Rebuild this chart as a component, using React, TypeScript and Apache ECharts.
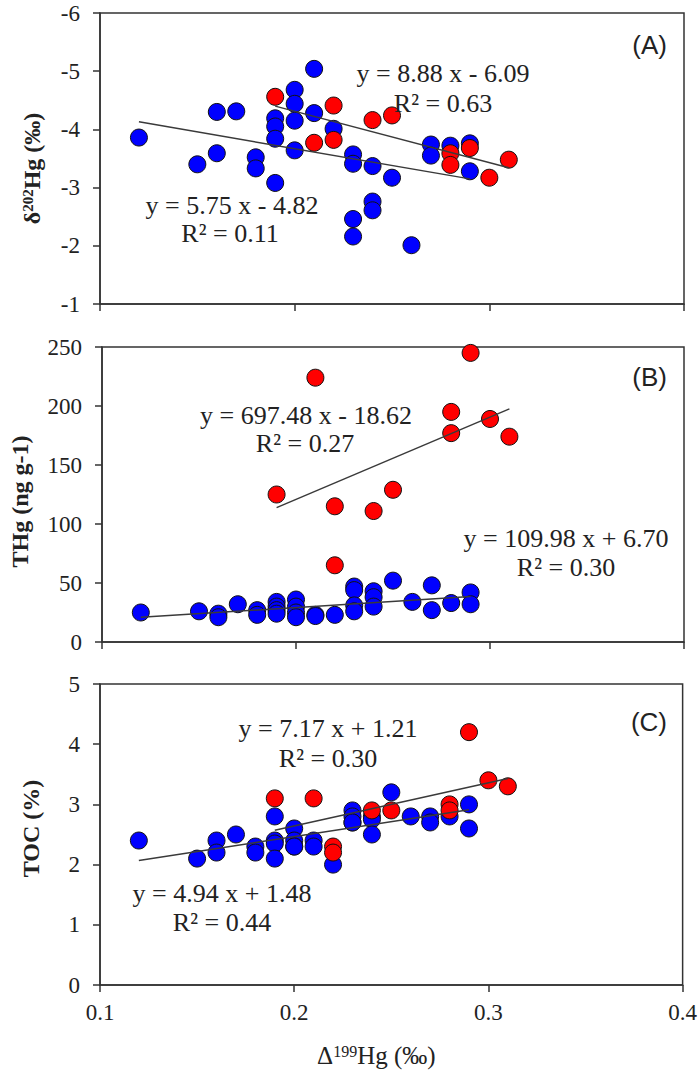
import React, { useEffect, useRef } from 'react';
import * as echarts from 'echarts';

// ---------- data ----------
const xBlue = [0.12, 0.15, 0.16, 0.16, 0.17, 0.18, 0.18, 0.19, 0.19, 0.19, 0.19, 0.2, 0.2, 0.2, 0.2, 0.21, 0.21, 0.22, 0.23, 0.23, 0.23, 0.23, 0.24, 0.24, 0.24, 0.25, 0.26, 0.27, 0.27, 0.28, 0.29, 0.29];
const aBlue = [-3.86, -3.4, -4.3, -3.59, -4.31, -3.52, -3.33, -4.19, -4.05, -3.84, -3.08, -4.68, -4.44, -4.15, -3.64, -5.04, -4.28, -4.01, -3.57, -3.41, -2.46, -2.16, -3.37, -2.76, -2.61, -3.17, -2.01, -3.74, -3.55, -3.72, -3.76, -3.28];
const bBlue = [25, 26, 24, 21, 32, 27, 23, 34, 30, 27, 24, 36, 30, 25, 21, 23, 22, 23, 47, 44, 31, 26, 43, 38, 30, 52, 34, 48, 27, 33, 42, 32];
const cBlue = [2.4, 2.1, 2.4, 2.2, 2.5, 2.3, 2.2, 2.8, 2.4, 2.35, 2.1, 2.6, 2.4, 2.3, 2.3, 2.4, 2.3, 2.0, 2.9, 2.8, 2.7, 2.7, 2.8, 2.75, 2.5, 3.2, 2.8, 2.8, 2.7, 2.8, 3.0, 2.6];

const xRed = [0.19, 0.21, 0.22, 0.22, 0.24, 0.25, 0.28, 0.28, 0.29, 0.3, 0.31];
const aRed = [-4.56, -3.77, -4.41, -3.82, -4.16, -4.24, -3.59, -3.39, -3.68, -3.17, -3.48];
const bRed = [125, 224, 115, 65, 111, 129, 195, 177, 245, 189, 174];
const cRed = [3.1, 3.1, 2.3, 2.2, 2.9, 2.9, 3.0, 2.9, 4.2, 3.4, 3.3];

// trend line end points
const fitXBlue = [0.12, 0.29];
const fitXRed = [0.19, 0.31];
const aBlueFit = [-4.13, -3.15];
const aRedFit = [-4.4, -3.34];
const bBlueFit = [20.9, 38.6];
const bRedFit = [113.9, 197.6];
const cBlueFit = [2.07, 2.91];
const cRedFit = [2.57, 3.43];

const xTicks = [0.1, 0.2, 0.3, 0.4];
const aTicks = [-6, -5, -4, -3, -2, -1];
const bTicks = [0, 50, 100, 150, 200, 250];
const cTicks = [0, 1, 2, 3, 4, 5];

const eqA = ['y = 8.88 x - 6.09', 'R² = 0.63', 'y = 5.75 x - 4.82', 'R² = 0.11'];
const eqB = ['y = 697.48 x - 18.62', 'R² = 0.27', 'y = 109.98 x + 6.70', 'R² = 0.30'];
const eqC = ['y = 7.17 x + 1.21', 'R² = 0.30', 'y = 4.94 x + 1.48', 'R² = 0.44'];
const panelLabels = ['(A)', '(B)', '(C)'];

const SERIF = 'Liberation Serif, Times New Roman, serif';
const SANS = 'Liberation Sans, Arial, sans-serif';
const INK = '#222';
const AXIS = '#333';

export default function App() {
  const ref = useRef<HTMLDivElement>(null);
  useEffect(() => {
    const chart = echarts.init(ref.current!, null, { renderer: 'svg' });
    const zip = (xs: number[], ys: number[]) => xs.map((x, i) => [x, ys[i]]);

    const grids = [
      { left: 100, top: 13, width: 584, height: 291 },
      { left: 100, top: 347, width: 584, height: 295 },
      { left: 100, top: 684, width: 584, height: 301 },
    ].map((g) => ({ ...g, show: true, borderColor: AXIS, borderWidth: 1.5, backgroundColor: 'transparent' }));

    const xAxes = [0, 1, 2].map((i) => ({
      type: 'value',
      gridIndex: i,
      min: xTicks[0],
      max: xTicks[xTicks.length - 1],
      interval: 0.1,
      axisLine: { lineStyle: { color: AXIS, width: 1.5 } },
      axisTick: { show: true, length: 7, lineStyle: { color: AXIS, width: 1.5 } },
      splitLine: { show: false },
      axisLabel: {
        show: i === 2,
        margin: 16,
        fontFamily: SERIF,
        fontSize: 23,
        color: INK,
        formatter: (v: number) => v.toFixed(1),
      },
      name: i === 2 ? '{a|Δ}{s|199}{a|Hg (‰)}' : '',
      nameLocation: 'middle',
      nameGap: 58,
      nameTextStyle: {
        padding: [0, 30, 0, 0],
        rich: {
          a: { fontFamily: SERIF, fontSize: 25, color: INK },
          s: { fontFamily: SERIF, fontSize: 16, color: INK, verticalAlign: 'top' },
        },
      },
    }));

    const yBase = (i: number, ticks: number[], interval: number) => ({
      type: 'value',
      gridIndex: i,
      min: ticks[0],
      max: ticks[ticks.length - 1],
      interval,
      axisLine: { show: true, lineStyle: { color: AXIS, width: 1.5 } },
      axisTick: { show: true, length: 7, lineStyle: { color: AXIS, width: 1.5 } },
      splitLine: { show: false },
      axisLabel: { margin: 20, fontFamily: SERIF, fontSize: 23, color: INK },
      nameLocation: 'middle',
    });

    const yAxes = [
      {
        ...yBase(0, aTicks, 1),
        inverse: true,
        name: '{a|δ}{s|202}{a|Hg (‰)}',
        nameGap: 56,
        nameTextStyle: {
          padding: [0, 20, 0, 0],
          rich: {
            a: { fontFamily: SERIF, fontWeight: 'bold', fontSize: 24, color: INK },
            s: { fontFamily: SERIF, fontWeight: 'bold', fontSize: 15, color: INK, verticalAlign: 'top' },
          },
        },
      },
      {
        ...yBase(1, bTicks, 50),
        name: 'THg (ng g-1)',
        nameGap: 70,
        nameTextStyle: { padding: [0, 14, 0, 0], fontFamily: SERIF, fontWeight: 'bold', fontSize: 24, color: INK },
      },
      {
        ...yBase(2, cTicks, 1),
        name: 'TOC (%)',
        nameGap: 57,
        nameTextStyle: { padding: [0, 0, 0, 12], fontFamily: SERIF, fontWeight: 'bold', fontSize: 24, color: INK },
      },
    ];

    const dot = (color: string) => ({ color, opacity: 1, borderColor: '#111', borderWidth: 1 });
    const scatter = (i: number, xs: number[], ys: number[], color: string) => ({
      type: 'scatter',
      xAxisIndex: i,
      yAxisIndex: i,
      symbolSize: 17,
      itemStyle: dot(color),
      data: zip(xs, ys),
      z: 2,
    });
    const fit = (i: number, xs: number[], ys: number[]) => ({
      type: 'line',
      xAxisIndex: i,
      yAxisIndex: i,
      showSymbol: false,
      symbol: 'none',
      lineStyle: { color: '#3a3a3a', width: 1.5 },
      data: zip(xs, ys),
      z: 3,
    });

    const series = [
      scatter(0, xBlue, aBlue, '#0000FF'),
      scatter(0, xRed, aRed, '#FF0000'),
      fit(0, fitXBlue, aBlueFit),
      fit(0, fitXRed, aRedFit),
      scatter(1, xBlue, bBlue, '#0000FF'),
      scatter(1, xRed, bRed, '#FF0000'),
      fit(1, fitXBlue, bBlueFit),
      fit(1, fitXRed, bRedFit),
      scatter(2, xBlue, cBlue, '#0000FF'),
      scatter(2, xRed, cRed, '#FF0000'),
      fit(2, fitXBlue, cBlueFit),
      fit(2, fitXRed, cRedFit),
    ];

    const txt = (text: string, x: number, y: number) => ({
      type: 'text',
      x,
      y,
      z: 10,
      style: {
        text,
        fontFamily: SERIF,
        fontSize: 26,
        fill: INK,
        textAlign: 'center',
        textVerticalAlign: 'middle',
      },
    });
    const eqPos: [string[], number[][]][] = [
      [eqA, [[443, 73], [443, 103], [232, 205], [230, 233]]],
      [eqB, [[306, 415], [305, 443], [566, 538], [566, 567]]],
      [eqC, [[328, 728], [328, 758], [222, 893], [222, 922]]],
    ];
    const graphic: any[] = [];
    eqPos.forEach(([texts, pos]) => texts.forEach((t, k) => graphic.push(txt(t, pos[k][0], pos[k][1]))));
    [45, 377, 722].forEach((y, i) =>
      graphic.push({
        type: 'text',
        x: 667,
        y,
        z: 10,
        style: {
          text: panelLabels[i],
          fontFamily: SANS,
          fontSize: 26,
          fill: INK,
          textAlign: 'right',
          textVerticalAlign: 'middle',
        },
      })
    );

    chart.setOption({
      animation: false,
      backgroundColor: '#fff',
      grid: grids,
      xAxis: xAxes,
      yAxis: yAxes,
      series,
      graphic,
    });
    return () => chart.dispose();
  }, []);
  return (
    <div
      ref={ref}
      style={{ position: 'fixed', left: 0, top: 0, width: 700, height: 1077, background: '#fff' }}
    />
  );
}
